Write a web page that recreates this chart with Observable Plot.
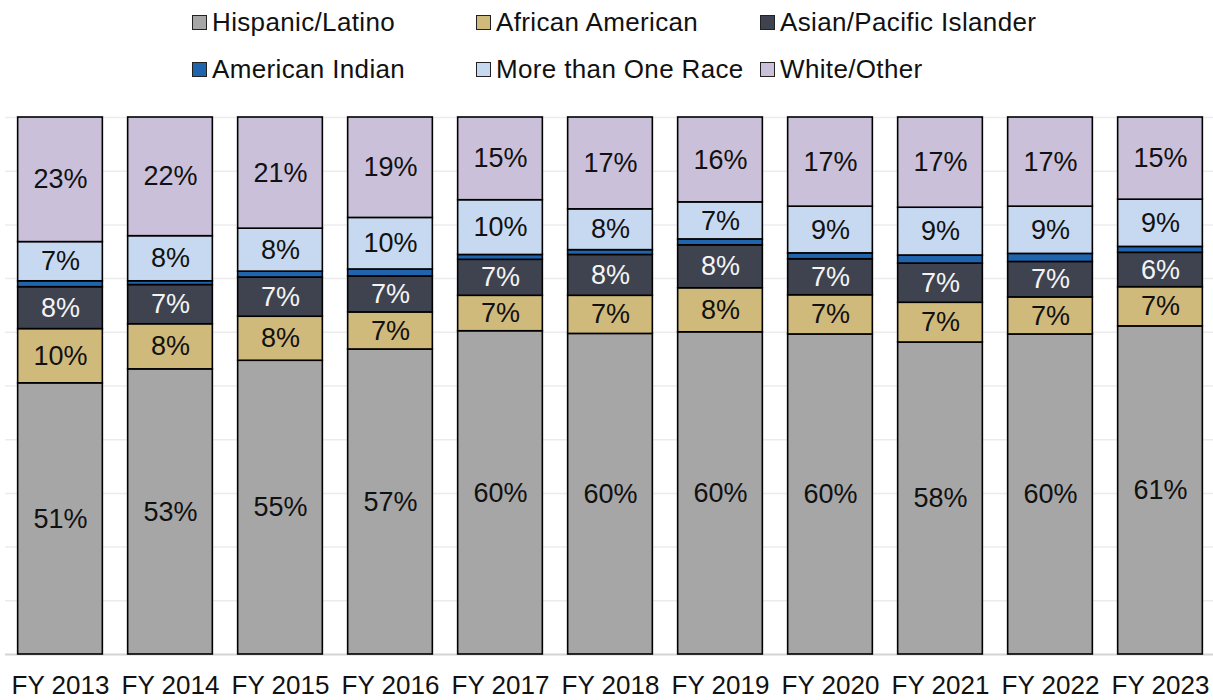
<!DOCTYPE html>
<html>
<head>
<meta charset="utf-8">
<script src="https://cdn.jsdelivr.net/npm/d3@7"></script>
<script src="https://cdn.jsdelivr.net/npm/@observablehq/plot@0.6"></script>
<style>
  body { margin: 0; background: #fff; font-family: "Liberation Sans", Arial, Helvetica, sans-serif; }
  #wrap { position: relative; width: 1213px; height: 700px; overflow: hidden; }
  #legend { position: relative; height: 95px; }
  .item { position: absolute; display: flex; align-items: center; font-size: 26px; letter-spacing: 0.35px; color: #111; white-space: nowrap; height: 30px; }
  .sw { width: 13px; height: 13px; border: 1.5px solid #222; margin-right: 5px; }
</style>
</head>
<body>
<div id="wrap">
  <div id="legend"></div>
  <div id="chart"></div>
</div>
<script>
const years = ["FY 2013","FY 2014","FY 2015","FY 2016","FY 2017","FY 2018","FY 2019","FY 2020","FY 2021","FY 2022","FY 2023"];
const categories = ["Hispanic/Latino","African American","Asian/Pacific Islander","American Indian","More than One Race","White/Other"];
const colors = ["#a6a6a6","#cfb97b","#3f4350","#1f64ad","#c6d9f0","#cbc0da"];

const hispanic = [50.5, 53.1, 54.7, 56.8, 60.2, 59.7, 60.0, 59.6, 58.1, 59.6, 61.1];
const african  = [10.1, 8.4, 8.2, 6.9, 6.6, 7.1, 8.2, 7.3, 7.4, 6.9, 7.3];
const asian    = [7.8, 7.3, 7.3, 6.7, 6.7, 7.6, 8.0, 6.7, 7.3, 6.6, 6.4];
const amIndian = [1.1, 0.7, 1.1, 1.3, 0.9, 0.9, 1.1, 1.1, 1.5, 1.5, 1.1];
const multiRace = [7.3, 8.4, 8.0, 9.6, 10.2, 7.6, 6.9, 8.7, 8.9, 8.8, 8.8];
const whiteOther = [23.2, 22.1, 20.7, 18.7, 15.4, 17.1, 15.8, 16.6, 16.8, 16.6, 15.3];

const series = [hispanic, african, asian, amIndian, multiRace, whiteOther];
const gridTicks = [10, 20, 30, 40, 50, 60, 70, 80, 90, 100];

const data = [];
years.forEach((yr, i) => categories.forEach((c, j) => data.push({year: yr, race: c, value: series[j][i]})));

// legend
const legendPos = [[192, 7], [476, 7], [760, 7], [192, 54], [476, 54], [760, 54]];
const legend = document.getElementById("legend");
categories.forEach((c, j) => {
  const it = document.createElement("div");
  it.className = "item";
  it.style.left = legendPos[j][0] + "px";
  it.style.top = legendPos[j][1] + "px";
  const sw = document.createElement("div");
  sw.className = "sw";
  sw.style.background = colors[j];
  const t = document.createElement("span");
  t.textContent = c;
  it.appendChild(sw); it.appendChild(t);
  legend.appendChild(it);
});

const fmt = d => `${Math.round(d.value)}%`;

const chart = Plot.plot({
  width: 1213,
  height: 605,
  marginLeft: 5,
  marginRight: 0,
  marginTop: 22,
  marginBottom: 46,
  style: {fontFamily: '"Liberation Sans", Arial, Helvetica, sans-serif', background: "#fff"},
  x: {domain: years, range: [17.65, 1202.35], paddingInner: 0.23, paddingOuter: 0, round: false, label: null},
  y: {domain: [0, 100], axis: null, label: null},
  color: {domain: categories, range: colors},
  marks: [
    Plot.gridY(gridTicks, {stroke: "#ececec", strokeOpacity: 1, strokeWidth: 1.5}),
    Plot.ruleY([0], {stroke: "#d4d4d4", strokeWidth: 2}),
    Plot.barY(data, {x: "year", y: "value", z: "race", fill: "race", stroke: "#000", strokeWidth: 1.6}),
    Plot.text(data, Plot.stackY({x: "year", y: "value", z: "race",
      text: d => (d.race === "American Indian" || d.race === "Asian/Pacific Islander") ? "" : fmt(d),
      fill: "#111", fontSize: 27})),
    Plot.text(data, Plot.stackY({x: "year", y: "value", z: "race",
      text: d => d.race === "Asian/Pacific Islander" ? fmt(d) : "",
      fill: "#f4f4f4", fontSize: 27})),
    Plot.axisX({tickSize: 0, tickPadding: 21, fontSize: 26, color: "#111"})
  ]
});
document.getElementById("chart").appendChild(chart);
</script>
</body>
</html>
